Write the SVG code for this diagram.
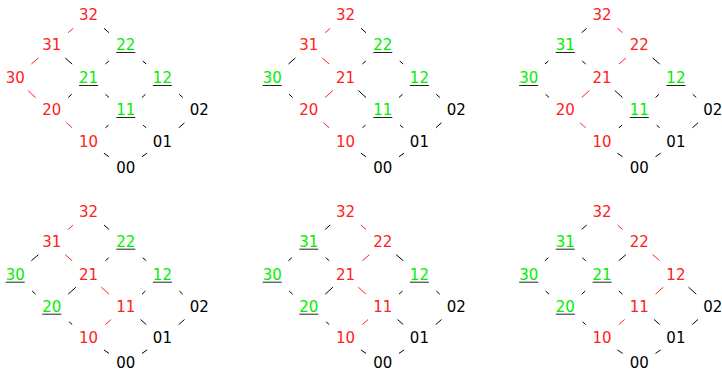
<svg xmlns="http://www.w3.org/2000/svg" width="722" height="372" viewBox="0 0 722 372">
<style>
text{font-family:"DejaVu Sans","Verdana",sans-serif;font-size:15px;text-anchor:middle}
.r{fill:#ff2020}.g{fill:#00ee00}.k{fill:#000}
.u{stroke:#222;stroke-width:1}
line.er{stroke:#ff2020;stroke-width:1}
line.ek{stroke:#000;stroke-width:1}
</style>
<rect width="722" height="372" fill="#fff"/>
<g id="connectors">
<g id="c1">
<line class="er" x1="73.2" y1="28.3" x2="68.2" y2="32.7"/>
<line class="ek" x1="104" y1="28.3" x2="109" y2="32.7"/>
<line class="er" x1="38.4" y1="58" x2="31.4" y2="64"/>
<line class="ek" x1="65.2" y1="58" x2="72.2" y2="64"/>
<line class="ek" x1="108.9" y1="61" x2="105.4" y2="64"/>
<line class="ek" x1="142.7" y1="61" x2="146.2" y2="64"/>
<line class="er" x1="27.9" y1="90.5" x2="35.6" y2="97.5"/>
<line class="ek" x1="71.7" y1="94.3" x2="68.2" y2="97.5"/>
<line class="ek" x1="105.5" y1="94.3" x2="109" y2="97.5"/>
<line class="ek" x1="145.5" y1="94.3" x2="142" y2="97.5"/>
<line class="ek" x1="179.3" y1="94.3" x2="182.8" y2="97.5"/>
<line class="er" x1="66.5" y1="122.8" x2="72.2" y2="127.8"/>
<line class="ek" x1="108.5" y1="125.1" x2="105.4" y2="127.8"/>
<line class="ek" x1="143.1" y1="125.1" x2="146.2" y2="127.8"/>
<line class="ek" x1="184.5" y1="122.8" x2="178.8" y2="127.8"/>
<line class="ek" x1="103.9" y1="153.2" x2="109" y2="156.7"/>
<line class="ek" x1="147.1" y1="153.2" x2="142" y2="156.7"/>
</g>
<g id="c2" transform="translate(257,0)">
<line class="er" x1="73.2" y1="28.3" x2="68.2" y2="32.7"/>
<line class="ek" x1="104" y1="28.3" x2="109" y2="32.7"/>
<line class="ek" x1="38.4" y1="58" x2="31.4" y2="64"/>
<line class="er" x1="65.2" y1="58" x2="72.2" y2="64"/>
<line class="ek" x1="108.9" y1="61" x2="105.4" y2="64"/>
<line class="ek" x1="142.7" y1="61" x2="146.2" y2="64"/>
<line class="ek" x1="32.1" y1="94.3" x2="35.6" y2="97.5"/>
<line class="er" x1="75.9" y1="90.5" x2="68.2" y2="97.5"/>
<line class="ek" x1="101.3" y1="90.5" x2="109" y2="97.5"/>
<line class="ek" x1="145.5" y1="94.3" x2="142" y2="97.5"/>
<line class="ek" x1="179.3" y1="94.3" x2="182.8" y2="97.5"/>
<line class="er" x1="66.5" y1="122.8" x2="72.2" y2="127.8"/>
<line class="ek" x1="108.5" y1="125.1" x2="105.4" y2="127.8"/>
<line class="ek" x1="143.1" y1="125.1" x2="146.2" y2="127.8"/>
<line class="ek" x1="184.5" y1="122.8" x2="178.8" y2="127.8"/>
<line class="ek" x1="103.9" y1="153.2" x2="109" y2="156.7"/>
<line class="ek" x1="147.1" y1="153.2" x2="142" y2="156.7"/>
</g>
<g id="c3" transform="translate(513.5,0)">
<line class="ek" x1="73.2" y1="28.3" x2="68.2" y2="32.7"/>
<line class="er" x1="104" y1="28.3" x2="109" y2="32.7"/>
<line class="ek" x1="34.9" y1="61" x2="31.4" y2="64"/>
<line class="ek" x1="68.7" y1="61" x2="72.2" y2="64"/>
<line class="er" x1="112.4" y1="58" x2="105.4" y2="64"/>
<line class="ek" x1="139.2" y1="58" x2="146.2" y2="64"/>
<line class="ek" x1="32.1" y1="94.3" x2="35.6" y2="97.5"/>
<line class="er" x1="75.9" y1="90.5" x2="68.2" y2="97.5"/>
<line class="ek" x1="101.3" y1="90.5" x2="109" y2="97.5"/>
<line class="ek" x1="145.5" y1="94.3" x2="142" y2="97.5"/>
<line class="ek" x1="179.3" y1="94.3" x2="182.8" y2="97.5"/>
<line class="er" x1="66.5" y1="122.8" x2="72.2" y2="127.8"/>
<line class="ek" x1="108.5" y1="125.1" x2="105.4" y2="127.8"/>
<line class="ek" x1="143.1" y1="125.1" x2="146.2" y2="127.8"/>
<line class="ek" x1="184.5" y1="122.8" x2="178.8" y2="127.8"/>
<line class="ek" x1="103.9" y1="153.2" x2="109" y2="156.7"/>
<line class="ek" x1="147.1" y1="153.2" x2="142" y2="156.7"/>
</g>
<g id="c4" transform="translate(0,196.7)">
<line class="er" x1="73.2" y1="28.3" x2="68.2" y2="32.7"/>
<line class="ek" x1="104" y1="28.3" x2="109" y2="32.7"/>
<line class="ek" x1="38.4" y1="58" x2="31.4" y2="64"/>
<line class="er" x1="65.2" y1="58" x2="72.2" y2="64"/>
<line class="ek" x1="108.9" y1="61" x2="105.4" y2="64"/>
<line class="ek" x1="142.7" y1="61" x2="146.2" y2="64"/>
<line class="ek" x1="32.1" y1="94.3" x2="35.6" y2="97.5"/>
<line class="ek" x1="75.9" y1="90.5" x2="68.2" y2="97.5"/>
<line class="er" x1="101.3" y1="90.5" x2="109" y2="97.5"/>
<line class="ek" x1="145.5" y1="94.3" x2="142" y2="97.5"/>
<line class="ek" x1="179.3" y1="94.3" x2="182.8" y2="97.5"/>
<line class="ek" x1="69.1" y1="125.1" x2="72.2" y2="127.8"/>
<line class="er" x1="111.1" y1="122.8" x2="105.4" y2="127.8"/>
<line class="ek" x1="140.5" y1="122.8" x2="146.2" y2="127.8"/>
<line class="ek" x1="184.5" y1="122.8" x2="178.8" y2="127.8"/>
<line class="ek" x1="103.9" y1="153.2" x2="109" y2="156.7"/>
<line class="ek" x1="147.1" y1="153.2" x2="142" y2="156.7"/>
</g>
<g id="c5" transform="translate(257,196.7)">
<line class="ek" x1="73.2" y1="28.3" x2="68.2" y2="32.7"/>
<line class="er" x1="104" y1="28.3" x2="109" y2="32.7"/>
<line class="ek" x1="34.9" y1="61" x2="31.4" y2="64"/>
<line class="ek" x1="68.7" y1="61" x2="72.2" y2="64"/>
<line class="er" x1="112.4" y1="58" x2="105.4" y2="64"/>
<line class="ek" x1="139.2" y1="58" x2="146.2" y2="64"/>
<line class="ek" x1="32.1" y1="94.3" x2="35.6" y2="97.5"/>
<line class="ek" x1="75.9" y1="90.5" x2="68.2" y2="97.5"/>
<line class="er" x1="101.3" y1="90.5" x2="109" y2="97.5"/>
<line class="ek" x1="145.5" y1="94.3" x2="142" y2="97.5"/>
<line class="ek" x1="179.3" y1="94.3" x2="182.8" y2="97.5"/>
<line class="ek" x1="69.1" y1="125.1" x2="72.2" y2="127.8"/>
<line class="er" x1="111.1" y1="122.8" x2="105.4" y2="127.8"/>
<line class="ek" x1="140.5" y1="122.8" x2="146.2" y2="127.8"/>
<line class="ek" x1="184.5" y1="122.8" x2="178.8" y2="127.8"/>
<line class="ek" x1="103.9" y1="153.2" x2="109" y2="156.7"/>
<line class="ek" x1="147.1" y1="153.2" x2="142" y2="156.7"/>
</g>
<g id="c6" transform="translate(513.5,196.7)">
<line class="ek" x1="73.2" y1="28.3" x2="68.2" y2="32.7"/>
<line class="er" x1="104" y1="28.3" x2="109" y2="32.7"/>
<line class="ek" x1="34.9" y1="61" x2="31.4" y2="64"/>
<line class="ek" x1="68.7" y1="61" x2="72.2" y2="64"/>
<line class="ek" x1="112.4" y1="58" x2="105.4" y2="64"/>
<line class="er" x1="139.2" y1="58" x2="146.2" y2="64"/>
<line class="ek" x1="32.1" y1="94.3" x2="35.6" y2="97.5"/>
<line class="ek" x1="71.7" y1="94.3" x2="68.2" y2="97.5"/>
<line class="ek" x1="105.5" y1="94.3" x2="109" y2="97.5"/>
<line class="er" x1="149.7" y1="90.5" x2="142" y2="97.5"/>
<line class="ek" x1="175.1" y1="90.5" x2="182.8" y2="97.5"/>
<line class="ek" x1="69.1" y1="125.1" x2="72.2" y2="127.8"/>
<line class="er" x1="111.1" y1="122.8" x2="105.4" y2="127.8"/>
<line class="ek" x1="140.5" y1="122.8" x2="146.2" y2="127.8"/>
<line class="ek" x1="184.5" y1="122.8" x2="178.8" y2="127.8"/>
<line class="ek" x1="103.9" y1="153.2" x2="109" y2="156.7"/>
<line class="ek" x1="147.1" y1="153.2" x2="142" y2="156.7"/>
</g>
</g>
<g id="panel1">
<g id="p1-32"><text class="r" x="88.6" y="20">32</text></g>
<g id="p1-31"><text class="r" x="51.8" y="50">31</text></g>
<g id="p1-22"><text class="g" x="125.8" y="50">22</text><line class="u" x1="116.3" y1="52.5" x2="135.3" y2="52.5"/></g>
<g id="p1-30"><text class="r" x="15.2" y="83.3">30</text></g>
<g id="p1-21"><text class="g" x="88.6" y="83.3">21</text><line class="u" x1="79.1" y1="85.5" x2="98.1" y2="85.5"/></g>
<g id="p1-12"><text class="g" x="162.4" y="83.3">12</text><line class="u" x1="152.9" y1="85.5" x2="171.9" y2="85.5"/></g>
<g id="p1-20"><text class="r" x="51.8" y="115">20</text></g>
<g id="p1-11"><text class="g" x="125.8" y="115">11</text><line class="u" x1="116.3" y1="117.5" x2="135.3" y2="117.5"/></g>
<g id="p1-02"><text class="k" x="199.2" y="115">02</text></g>
<g id="p1-10"><text class="r" x="88.6" y="146.7">10</text></g>
<g id="p1-01"><text class="k" x="162.4" y="146.7">01</text></g>
<g id="p1-00"><text class="k" x="125.8" y="173.3">00</text></g>
</g>
<g id="panel2" transform="translate(257,0)">
<g id="p2-32"><text class="r" x="88.6" y="20">32</text></g>
<g id="p2-31"><text class="r" x="51.8" y="50">31</text></g>
<g id="p2-22"><text class="g" x="125.8" y="50">22</text><line class="u" x1="116.3" y1="52.5" x2="135.3" y2="52.5"/></g>
<g id="p2-30"><text class="g" x="15.2" y="83.3">30</text><line class="u" x1="5.7" y1="85.5" x2="24.7" y2="85.5"/></g>
<g id="p2-21"><text class="r" x="88.6" y="83.3">21</text></g>
<g id="p2-12"><text class="g" x="162.4" y="83.3">12</text><line class="u" x1="152.9" y1="85.5" x2="171.9" y2="85.5"/></g>
<g id="p2-20"><text class="r" x="51.8" y="115">20</text></g>
<g id="p2-11"><text class="g" x="125.8" y="115">11</text><line class="u" x1="116.3" y1="117.5" x2="135.3" y2="117.5"/></g>
<g id="p2-02"><text class="k" x="199.2" y="115">02</text></g>
<g id="p2-10"><text class="r" x="88.6" y="146.7">10</text></g>
<g id="p2-01"><text class="k" x="162.4" y="146.7">01</text></g>
<g id="p2-00"><text class="k" x="125.8" y="173.3">00</text></g>
</g>
<g id="panel3" transform="translate(513.5,0)">
<g id="p3-32"><text class="r" x="88.6" y="20">32</text></g>
<g id="p3-31"><text class="g" x="51.8" y="50">31</text><line class="u" x1="42.3" y1="52.5" x2="61.3" y2="52.5"/></g>
<g id="p3-22"><text class="r" x="125.8" y="50">22</text></g>
<g id="p3-30"><text class="g" x="15.2" y="83.3">30</text><line class="u" x1="5.7" y1="85.5" x2="24.7" y2="85.5"/></g>
<g id="p3-21"><text class="r" x="88.6" y="83.3">21</text></g>
<g id="p3-12"><text class="g" x="162.4" y="83.3">12</text><line class="u" x1="152.9" y1="85.5" x2="171.9" y2="85.5"/></g>
<g id="p3-20"><text class="r" x="51.8" y="115">20</text></g>
<g id="p3-11"><text class="g" x="125.8" y="115">11</text><line class="u" x1="116.3" y1="117.5" x2="135.3" y2="117.5"/></g>
<g id="p3-02"><text class="k" x="199.2" y="115">02</text></g>
<g id="p3-10"><text class="r" x="88.6" y="146.7">10</text></g>
<g id="p3-01"><text class="k" x="162.4" y="146.7">01</text></g>
<g id="p3-00"><text class="k" x="125.8" y="173.3">00</text></g>
</g>
<g id="panel4" transform="translate(0,196.7)">
<g id="p4-32"><text class="r" x="88.6" y="20">32</text></g>
<g id="p4-31"><text class="r" x="51.8" y="50">31</text></g>
<g id="p4-22"><text class="g" x="125.8" y="50">22</text><line class="u" x1="116.3" y1="52.5" x2="135.3" y2="52.5"/></g>
<g id="p4-30"><text class="g" x="15.2" y="83.3">30</text><line class="u" x1="5.7" y1="85.5" x2="24.7" y2="85.5"/></g>
<g id="p4-21"><text class="r" x="88.6" y="83.3">21</text></g>
<g id="p4-12"><text class="g" x="162.4" y="83.3">12</text><line class="u" x1="152.9" y1="85.5" x2="171.9" y2="85.5"/></g>
<g id="p4-20"><text class="g" x="51.8" y="115">20</text><line class="u" x1="42.3" y1="117.5" x2="61.3" y2="117.5"/></g>
<g id="p4-11"><text class="r" x="125.8" y="115">11</text></g>
<g id="p4-02"><text class="k" x="199.2" y="115">02</text></g>
<g id="p4-10"><text class="r" x="88.6" y="146.7">10</text></g>
<g id="p4-01"><text class="k" x="162.4" y="146.7">01</text></g>
<g id="p4-00"><text class="k" x="125.8" y="171.6">00</text></g>
</g>
<g id="panel5" transform="translate(257,196.7)">
<g id="p5-32"><text class="r" x="88.6" y="20">32</text></g>
<g id="p5-31"><text class="g" x="51.8" y="50">31</text><line class="u" x1="42.3" y1="52.5" x2="61.3" y2="52.5"/></g>
<g id="p5-22"><text class="r" x="125.8" y="50">22</text></g>
<g id="p5-30"><text class="g" x="15.2" y="83.3">30</text><line class="u" x1="5.7" y1="85.5" x2="24.7" y2="85.5"/></g>
<g id="p5-21"><text class="r" x="88.6" y="83.3">21</text></g>
<g id="p5-12"><text class="g" x="162.4" y="83.3">12</text><line class="u" x1="152.9" y1="85.5" x2="171.9" y2="85.5"/></g>
<g id="p5-20"><text class="g" x="51.8" y="115">20</text><line class="u" x1="42.3" y1="117.5" x2="61.3" y2="117.5"/></g>
<g id="p5-11"><text class="r" x="125.8" y="115">11</text></g>
<g id="p5-02"><text class="k" x="199.2" y="115">02</text></g>
<g id="p5-10"><text class="r" x="88.6" y="146.7">10</text></g>
<g id="p5-01"><text class="k" x="162.4" y="146.7">01</text></g>
<g id="p5-00"><text class="k" x="125.8" y="171.6">00</text></g>
</g>
<g id="panel6" transform="translate(513.5,196.7)">
<g id="p6-32"><text class="r" x="88.6" y="20">32</text></g>
<g id="p6-31"><text class="g" x="51.8" y="50">31</text><line class="u" x1="42.3" y1="52.5" x2="61.3" y2="52.5"/></g>
<g id="p6-22"><text class="r" x="125.8" y="50">22</text></g>
<g id="p6-30"><text class="g" x="15.2" y="83.3">30</text><line class="u" x1="5.7" y1="85.5" x2="24.7" y2="85.5"/></g>
<g id="p6-21"><text class="g" x="88.6" y="83.3">21</text><line class="u" x1="79.1" y1="85.5" x2="98.1" y2="85.5"/></g>
<g id="p6-12"><text class="r" x="162.4" y="83.3">12</text></g>
<g id="p6-20"><text class="g" x="51.8" y="115">20</text><line class="u" x1="42.3" y1="117.5" x2="61.3" y2="117.5"/></g>
<g id="p6-11"><text class="r" x="125.8" y="115">11</text></g>
<g id="p6-02"><text class="k" x="199.2" y="115">02</text></g>
<g id="p6-10"><text class="r" x="88.6" y="146.7">10</text></g>
<g id="p6-01"><text class="k" x="162.4" y="146.7">01</text></g>
<g id="p6-00"><text class="k" x="125.8" y="171.6">00</text></g>
</g>
</svg>
